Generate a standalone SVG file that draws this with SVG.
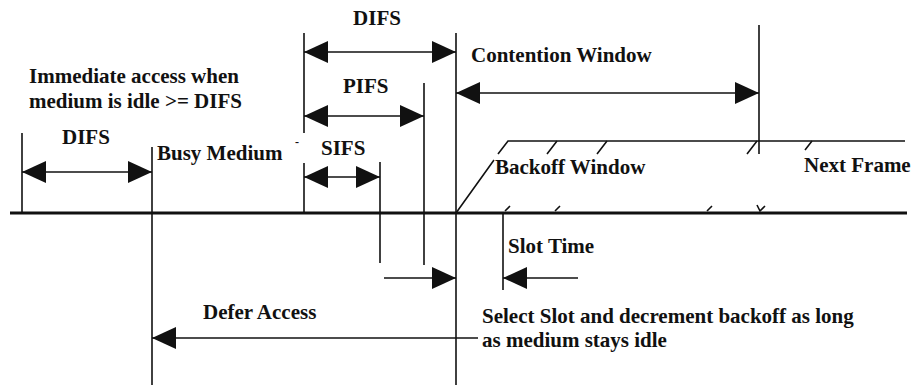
<svg xmlns="http://www.w3.org/2000/svg" width="912" height="385" viewBox="0 0 912 385">
<style>
.t{font-family:"Liberation Serif","Times New Roman",serif;font-weight:bold;font-size:21px;fill:#111}
.l{stroke:#111;stroke-width:1.6;fill:none}
.b{stroke:#111;stroke-width:3;fill:none}
.a{stroke:#111;stroke-width:1.6;fill:none;marker-end:url(#ah)}
.a2{stroke:#111;stroke-width:1.6;fill:none;marker-start:url(#ah);marker-end:url(#ah)}
</style>
<defs>
<marker id="ah" viewBox="0 0 24 22" refX="24" refY="11" markerWidth="24" markerHeight="22" orient="auto-start-reverse" markerUnits="userSpaceOnUse">
<path d="M0,0 L24,11 L0,22 Z" fill="#111"/>
</marker>
</defs>
<rect width="912" height="385" fill="#fff"/>
<g id="timeline">
<line class="b" x1="10" y1="213" x2="907" y2="213"/>
</g>
<g id="connectors">
<line class="l" x1="22" y1="133" x2="22" y2="213"/>
<line class="l" x1="152" y1="147" x2="152" y2="385"/>
<line class="l" x1="304" y1="33" x2="304" y2="133"/>
<line class="l" x1="304" y1="163" x2="304" y2="213"/>
<line class="l" x1="380" y1="162" x2="380" y2="263"/>
<line class="l" x1="424" y1="83" x2="424" y2="265"/>
<line class="l" x1="456" y1="33" x2="456" y2="385"/>
<line class="l" x1="759" y1="25" x2="759" y2="154"/>
<line class="l" x1="503" y1="213" x2="503" y2="290"/>
<line class="a2" x1="304" y1="52" x2="456" y2="52"/>
<line class="a2" x1="304" y1="116" x2="424" y2="116"/>
<line class="a2" x1="304" y1="177" x2="380" y2="177"/>
<line class="a2" x1="22" y1="172" x2="152" y2="172"/>
<line class="a2" x1="456" y1="93" x2="759" y2="93"/>
<line class="a" x1="384" y1="278" x2="456" y2="278"/>
<line class="a" x1="478" y1="338" x2="152" y2="338"/>
<line class="a" x1="578" y1="278" x2="503" y2="278"/>
<path class="l" d="M456,213 L494,160 M498,154 L508,141 L905,141"/>
<path class="l" d="M547,154 L557,141 M597,154 L607,141 M747,154 L757,141 M805,150 L812,141"/>
<path class="l" d="M505,211 L510,206 M555,211 L560,206 M707,211 L712,206 M757,205 L760,211 L765,206"/>
</g>
<g id="labels">
<text class="t" x="377" y="25" text-anchor="middle">DIFS</text>
<text class="t" x="29" y="83">Immediate access when</text>
<text class="t" x="29" y="108">medium is idle &gt;= DIFS</text>
<text class="t" x="343" y="93">PIFS</text>
<text class="t" x="62" y="144">DIFS</text>
<text class="t" x="157" y="160">Busy Medium</text>
<text class="t" x="295" y="146" style="font-size:12px">-</text>
<text class="t" x="321" y="155">SIFS</text>
<text class="t" x="471" y="62">Contention Window</text>
<text class="t" x="495" y="174">Backoff Window</text>
<text class="t" x="804" y="172">Next Frame</text>
<text class="t" x="203" y="319">Defer Access</text>
<text class="t" x="508" y="253">Slot Time</text>
<text class="t" x="482" y="323">Select Slot and decrement backoff as long</text>
<text class="t" x="482" y="347">as medium stays idle</text>
</g>
</svg>
